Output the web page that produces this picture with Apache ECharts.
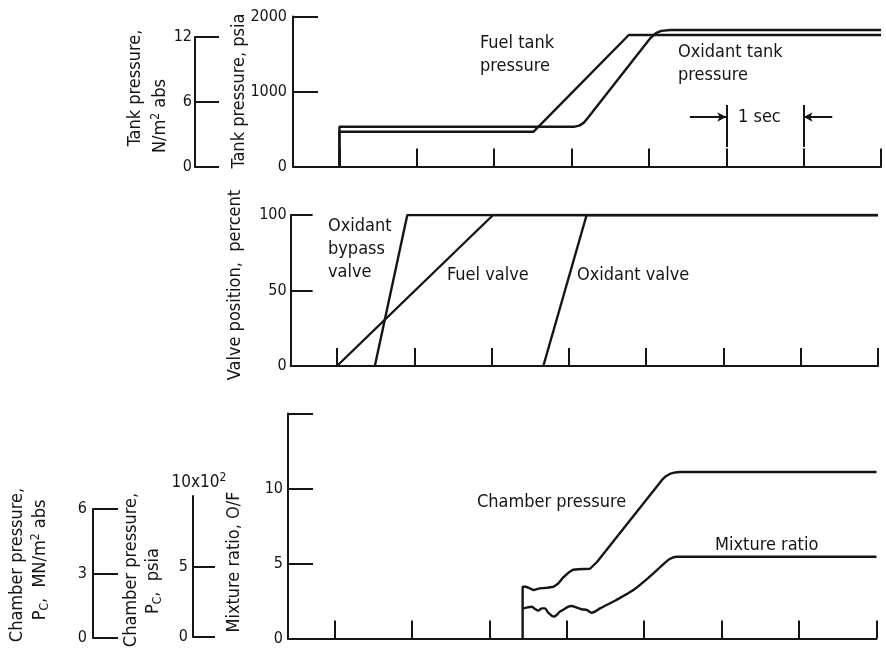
<!DOCTYPE html>
<html>
<head>
<meta charset="utf-8">
<script src="https://cdn.jsdelivr.net/npm/echarts@6.0.0/dist/echarts.min.js"></script>
<style>
  html, body { margin: 0; padding: 0; background: #fff; }
  #chart { width: 886px; height: 650px; }
</style>
</head>
<body>
<div id="chart"></div>
<script>
// ---- time base: seconds, one tick per second ----
const timeTicks = [0, 1, 2, 3, 4, 5, 6, 7];

// ---- tank pressures, psia : [time, value] ----
const fuelTankPressure = [[0, 0], [0, 464], [2.51, 464], [3.74, 1753], [7, 1753]];
const oxidantTankPressure = [
  [0, 0], [0, 531], [3.04, 531], [3.10, 545], [3.16, 585], [3.22, 660],
  [4.02, 1713], [4.09, 1778], [4.16, 1808], [4.28, 1820], [7, 1820]
];
const psiaTicks = [0, 1000, 2000];
const tankSiTicks = [0, 6, 12];

// one-second scale bar on the tank-pressure panel
const secBar = { from: 5, to: 6, low: 260, high: 820, arrowAt: 660, arrowLeft: 4.53, arrowRight: 6.37 };

// ---- valve positions, percent ----
const bypassValve = [[0.49, 0], [0.91, 100], [7, 100]];
const fuelValve = [[0, 0], [2.02, 100], [7, 100]];
const oxidantValve = [[2.67, 0], [3.23, 100], [7, 100]];
const valveTicks = [0, 50, 100];

// ---- chamber pressure and mixture ratio ----
const chamberPressure = [
  [2.43, 0], [2.43, 3.45], [2.47, 3.45], [2.5, 3.4], [2.57, 3.23], [2.65, 3.34],
  [2.75, 3.38], [2.83, 3.45], [2.89, 3.67], [2.95, 4.05], [3.02, 4.38], [3.08, 4.58],
  [3.15, 4.62], [3.30, 4.65], [3.39, 5.1], [4.23, 10.57], [4.28, 10.82], [4.33, 10.97],
  [4.40, 11.07], [4.46, 11.1], [7, 11.1]
];
const mixtureRatio = [
  [2.44, 2.01], [2.48, 2.06], [2.55, 2.12], [2.59, 1.97], [2.63, 1.86], [2.68, 2.01],
  [2.72, 2.01], [2.76, 1.72], [2.83, 1.46], [2.87, 1.57], [2.91, 1.79], [2.95, 1.9],
  [3.02, 2.12], [3.06, 2.17], [3.13, 2.06], [3.19, 1.95], [3.26, 1.9], [3.32, 1.72],
  [3.36, 1.79], [3.43, 2.01], [3.64, 2.57], [3.86, 3.23], [4.07, 4.12], [4.25, 4.96],
  [4.33, 5.3], [4.42, 5.45], [7, 5.45]
];
const ratioTicks = [0, 5, 10, 15];
const ratioLabels = [0, 5, 10];
const chamberSiTicks = [0, 3, 6];
const chamberPsiaTicks = [0, 5];

// ---- styling ----
const INK = '#151515';
const TEXT_FONT = '"DejaVu Sans Condensed", "DejaVu Sans", sans-serif';
const NUM_FONT = '"DejaVu Sans Condensed", "DejaVu Sans", sans-serif';
const NUM_SIZE = 16;
const LINE_W = 2.4;

function timeAxis(gridIndex, show) {
  return {
    type: 'value', gridIndex, min: -0.6, max: 7,
    axisLine: { show, onZero: false, lineStyle: { color: INK, width: 2 } },
    axisTick: { show, inside: true, length: 18, customValues: timeTicks, lineStyle: { color: INK, width: 2 } },
    axisLabel: { show: false },
    splitLine: { show: false }
  };
}

function scaleAxis(gridIndex, min, max, ticks, labels, tickLen, margin, extra) {
  return Object.assign({
    type: 'value', gridIndex, min, max,
    axisLine: { show: true, onZero: false, lineStyle: { color: INK, width: 2 } },
    axisTick: { show: true, inside: true, length: tickLen, customValues: ticks, lineStyle: { color: INK, width: 2 } },
    axisLabel: {
      customValues: labels, margin, color: INK, fontFamily: NUM_FONT, fontSize: NUM_SIZE,
      formatter: v => String(v)
    },
    splitLine: { show: false }
  }, extra || {});
}

function curve(data, xi, yi, extra) {
  return Object.assign({
    type: 'line', data, xAxisIndex: xi, yAxisIndex: yi,
    showSymbol: false, symbol: 'none', silent: true, animation: false,
    lineStyle: { color: INK, width: LINE_W }, z: 5
  }, extra || {});
}

const sup = { fontSize: 12, fontFamily: TEXT_FONT, fill: INK, padding: [0, 0, 9, 0] };
const sub = { fontSize: 12, fontFamily: TEXT_FONT, fill: INK, padding: [9, 0, 0, 0] };

function vText(x, y, text) {
  return {
    type: 'text', x, y, rotation: Math.PI / 2, silent: true,
    style: {
      text, fill: INK, fontFamily: TEXT_FONT, fontSize: 18,
      align: 'center', verticalAlign: 'middle',
      rich: { sup, sub }
    }
  };
}
function hText(x, y, text) {
  return {
    type: 'text', x, y, silent: true,
    style: { text, fill: INK, fontFamily: TEXT_FONT, fontSize: 18, align: 'left', verticalAlign: 'middle', lineHeight: 23 }
  };
}

const option = {
  backgroundColor: '#fff',
  animation: false,
  grid: [
    { left: 293, right: 5, top: 16.5, bottom: 483.5 },        // tank pressure
    { left: 195, width: 40, top: 37, bottom: 483 },           // tank pressure, SI scale
    { left: 290.6, right: 8, top: 215, bottom: 284 },         // valve position
    { left: 288, right: 9.5, top: 413.5, bottom: 11.5 },      // chamber pressure / mixture ratio
    { left: 93, width: 30, top: 509, bottom: 12 },            // chamber pressure, SI scale
    { left: 193, width: 30, top: 496, bottom: 13 }            // chamber pressure, psia scale
  ],
  xAxis: [
    timeAxis(0, true),
    timeAxis(1, false),
    timeAxis(2, true),
    timeAxis(3, true),
    timeAxis(4, false),
    timeAxis(5, false)
  ],
  yAxis: [
    scaleAxis(0, 0, 2000, psiaTicks, psiaTicks, 25, 6),
    scaleAxis(1, 0, 12, tankSiTicks, tankSiTicks, 24, 3),
    scaleAxis(2, 0, 100, valveTicks, valveTicks, 22, 4),
    scaleAxis(3, 0, 15, ratioTicks, ratioLabels, 25, 5),
    scaleAxis(4, 0, 6, chamberSiTicks, chamberSiTicks, 25, 6),
    scaleAxis(5, 0, 10, chamberPsiaTicks, chamberPsiaTicks, 22, 5, {
      name: '10x10{sup|2}', nameLocation: 'end', nameGap: 3,
      nameTextStyle: {
        color: INK, fontFamily: NUM_FONT, fontSize: 17, padding: [0, 0, 0, 12],
        rich: { sup: { fontSize: 12, fontFamily: NUM_FONT, color: INK, padding: [0, 0, 9, 0] } }
      }
    })
  ],
  series: [
    curve(fuelTankPressure, 0, 0),
    curve(oxidantTankPressure, 0, 0, {
      markLine: {
        silent: true, symbol: ['none', 'none'], symbolSize: [7, 9],
        label: { show: false }, animation: false,
        lineStyle: { color: INK, width: 2, type: 'solid' },
        data: [
          [{ coord: [secBar.from, secBar.low] }, { coord: [secBar.from, secBar.high] }],
          [{ coord: [secBar.to, secBar.low] }, { coord: [secBar.to, secBar.high] }],
          [{ coord: [secBar.arrowLeft, secBar.arrowAt] }, { coord: [secBar.from, secBar.arrowAt], symbol: 'arrow' }],
          [{ coord: [secBar.arrowRight, secBar.arrowAt] }, { coord: [secBar.to, secBar.arrowAt], symbol: 'arrow' }]
        ]
      }
    }),
    curve(bypassValve, 2, 2),
    curve(fuelValve, 2, 2),
    curve(oxidantValve, 2, 2),
    curve(chamberPressure, 3, 3),
    curve(mixtureRatio, 3, 3, { smooth: 0.25 })
  ],
  graphic: [
    // axis titles
    vText(135, 88, 'Tank pressure,'),
    vText(160, 116, 'N/m{sup|2} abs'),
    vText(239, 91, 'Tank pressure, psia'),
    vText(235, 285, 'Valve position,  percent'),
    vText(17, 565, 'Chamber pressure,'),
    vText(40, 560, 'P{sub|C},  MN/m{sup|2} abs'),
    vText(131, 570, 'Chamber pressure,'),
    vText(153, 581, 'P{sub|C},  psia'),
    vText(234, 562, 'Mixture ratio, O/F'),
    // curve annotations
    hText(480, 55, 'Fuel tank\npressure'),
    hText(678, 64, 'Oxidant tank\npressure'),
    hText(738, 117, '1 sec'),
    hText(328, 249, 'Oxidant\nbypass\nvalve'),
    hText(447, 275, 'Fuel valve'),
    hText(577, 275, 'Oxidant valve'),
    hText(477, 502, 'Chamber pressure'),
    hText(715, 545, 'Mixture ratio')
  ]
};

const chart = echarts.init(document.getElementById('chart'), null, { renderer: 'canvas' });
chart.setOption(option);
</script>
</body>
</html>
